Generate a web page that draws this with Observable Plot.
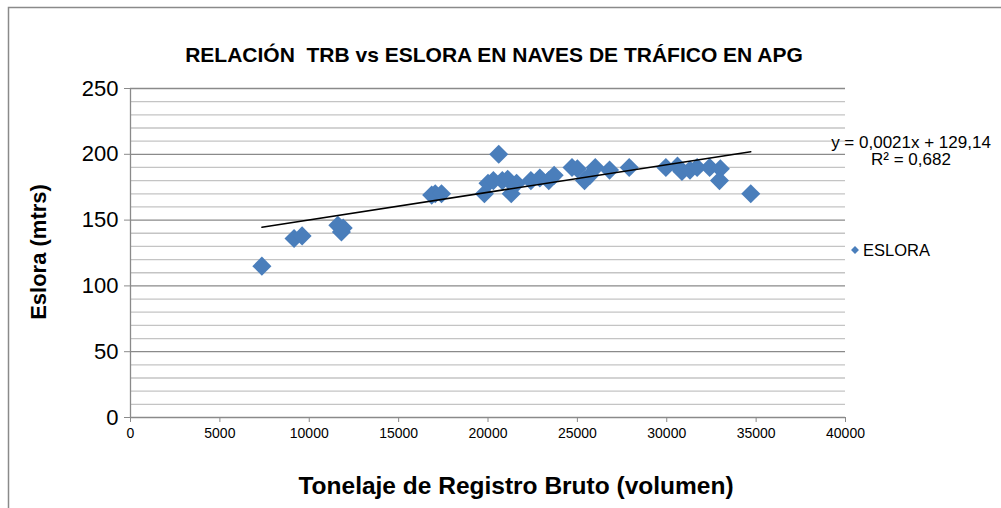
<!DOCTYPE html>
<html><head><meta charset="utf-8">
<script src="https://cdn.jsdelivr.net/npm/d3@7"></script>
<script src="https://cdn.jsdelivr.net/npm/@observablehq/plot@0.6"></script>
<style>
body{margin:0;background:#fff}
svg{font-family:"Liberation Sans",Arial,sans-serif}
</style>
</head><body><div id="chart"></div>
<script>
// Data: Tonelaje de Registro Bruto (TRB) vs Eslora (m)
const trb    = [7350, 9150, 9600, 11600, 11800, 11900, 16850, 17050, 17400, 19800, 20000, 20600, 20300, 20800, 21100, 21300, 21600, 22400, 22900, 23400, 23700, 24700, 25000, 25400, 25700, 26000, 26800, 27900, 29950, 30600, 30850, 31300, 31700, 32400, 33000, 32950, 34700];
const eslora = [115,  136,  138,  146,   141,   144,   169,   170,   170,   170,   178,   200,   180,   180,   181,   170,   178,   180,   182,   180,   184,   190,   189,   180,   184,   190,   188,   190,   190,   191,   187,   188,   190,   190,   189,   180,   170];
const seriesName = "ESLORA";
const slope = 0.0021, intercept = 129.14, r2 = 0.682;
const xTicks = [0, 5000, 10000, 15000, 20000, 25000, 30000, 35000, 40000];
const yTicks = [0, 50, 100, 150, 200, 250];
const yMinor = [10, 20, 30, 40, 60, 70, 80, 90, 110, 120, 130, 140, 160, 170, 180, 190, 210, 220, 230, 240];
const title = "RELACIÓN  TRB vs ESLORA EN NAVES DE TRÁFICO EN APG";
const xLabel = "Tonelaje de Registro Bruto (volumen)";
const yLabel = "Eslora (mtrs)";
const eqText = "y = 0,0021x + 129,14";
const r2Text = "R² = 0,682";

const data = trb.map((x, i) => ({x, y: eslora[i]}));
const xr = d3.extent(trb);
const trend = xr.map(x => ({x, y: slope * x + intercept}));

const W = 1001, H = 508;
const mL = 130, mR = 156, mT = 88, mB = 91;
const blue = "#4a7ebb";

const svg = Plot.plot({
  width: W, height: H,
  marginLeft: mL, marginRight: mR, marginTop: mT, marginBottom: mB,
  x: {domain: [0, 40000]},
  y: {domain: [0, 250]},
  marks: [
    Plot.ruleY(yMinor, {stroke: "#c4c4c4", strokeWidth: 1.3}),
    Plot.ruleY(yTicks, {stroke: "#8a8a8a", strokeWidth: 1.3}),
    Plot.ruleX([0], {stroke: "#8a8a8a", strokeWidth: 1.3}),
    Plot.axisY({ticks: yTicks, tickSize: 6, tickPadding: 6, fontSize: 22, stroke: "#8a8a8a", label: null, color: "#000"}),
    Plot.axisX({ticks: xTicks, tickSize: 5, tickPadding: 6, fontSize: 14, stroke: "#8a8a8a", label: null, tickFormat: d3.format("d"), color: "#000"}),
    Plot.dot(data, {x: "x", y: "y", symbol: "diamond2", r: 8.6, fill: blue, stroke: "none"}),
    Plot.line(trend, {x: "x", y: "y", stroke: "#000", strokeWidth: 1.5})
  ]
});

const s = d3.select(svg);
s.style("overflow", "visible");
const txt = (x, y, size, str, anchor = "middle", weight = "normal") =>
  s.append("text").attr("x", x).attr("y", y).attr("text-anchor", anchor)
    .attr("font-size", size).attr("font-weight", weight).attr("fill", "#000").text(str);
// chart border
s.append("path").attr("d", `M8.5,${H} V7.5 H${W}`).attr("fill", "none").attr("stroke", "#8a8a8a").attr("stroke-width", 1.5);
// title
txt(494, 62, 21, title, "middle", "bold");
// axis titles
txt(516, 494, 24.5, xLabel, "middle", "bold");
s.append("text").attr("transform", "translate(46,252) rotate(-90)").attr("text-anchor", "middle")
  .attr("font-size", 22).attr("font-weight", "bold").attr("fill", "#000").text(yLabel);
// trendline equation
txt(911, 148, 17, eqText);
txt(911, 165, 17, r2Text);
// legend
s.append("path").attr("d", d3.symbol(d3.symbolDiamond2, 40)()).attr("transform", "translate(855,250)").attr("fill", blue);
txt(863, 256, 16.5, seriesName, "start");

document.getElementById("chart").appendChild(svg);
</script>
</body></html>
